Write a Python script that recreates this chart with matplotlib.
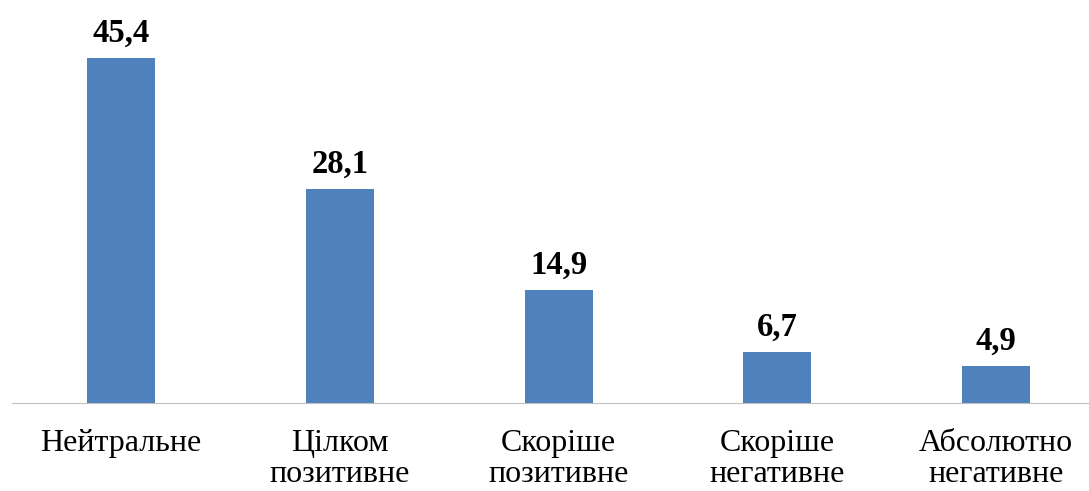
import matplotlib
matplotlib.use('Agg')
import matplotlib.pyplot as plt
import numpy as np

categories = ['Нейтральне', 'Цілком\nпозитивне', 'Скоріше\nпозитивне',
              'Скоріше\nнегативне', 'Абсолютно\nнегативне']
values = [45.4, 28.1, 14.9, 6.7, 4.9]
value_labels = ['45,4', '28,1', '14,9', '6,7', '4,9']

plt.rcParams['font.family'] = ['Liberation Serif', 'DejaVu Serif']

fig = plt.figure(figsize=(10.89, 4.91), dpi=100)
ax = fig.add_axes([0.0107, 0.179, 1.0045, 0.821])

x = np.arange(len(categories))
bars = ax.bar(x, values, width=0.311, color='#4F81BD')

for b, lbl in zip(bars, value_labels):
    ax.text(b.get_x() + b.get_width() / 2, b.get_height() + 1.2, lbl,
            ha='center', va='bottom', fontsize=23.5, fontweight='bold')

ax.set_xlim(-0.5, len(categories) - 0.5)
ax.set_ylim(0, 53)
ax.set_xticks(x)
ax.set_xticklabels(categories, fontsize=23, linespacing=1.06, va='top')
ax.tick_params(axis='x', length=0, pad=19)
ax.set_yticks([])
for s in ['top', 'right', 'left']:
    ax.spines[s].set_visible(False)
ax.spines['bottom'].set_color('#BFBFBF')

fig.savefig('out.png', dpi=100)
